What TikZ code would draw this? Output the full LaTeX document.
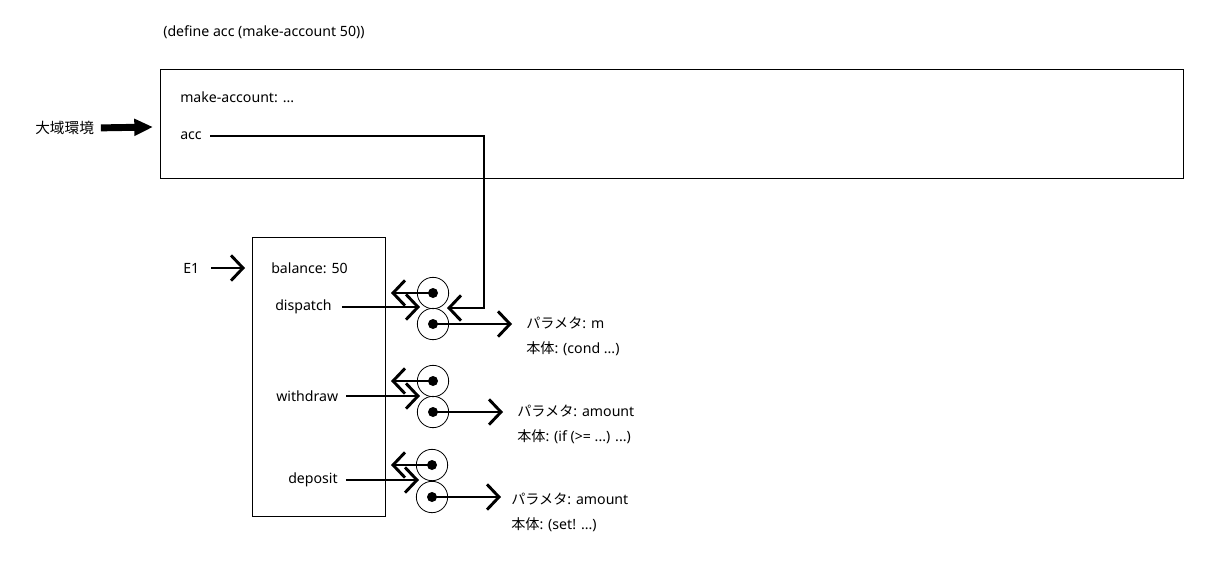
\documentclass[tikz,border=0pt]{standalone}
\usepackage{fontspec}
\setmainfont{Noto Sans}
\newfontfamily\jp{Noto Sans CJK JP}
\usetikzlibrary{arrows.meta}
\tikzset{
  frame/.style={draw, line width=0.75pt},
  lbl/.style={anchor=west, inner sep=0pt, font=\fontsize{10.6}{12}\selectfont},
  cell/.style={circle, draw, line width=0.6pt, minimum size=23.5pt, inner sep=0pt},
  dotn/.style={circle, fill, minimum size=7.5pt, inner sep=0pt},
  ptr/.style={line width=2.2pt, -{Straight Barb[length=9pt,width=19pt,line width=2.2pt]}},
  fat/.style={line width=5.2pt, -{Triangle[length=14pt,width=12pt]}}
}
\begin{document}
\begin{tikzpicture}[x=0.75pt,y=-0.75pt]
\useasboundingbox (0,0) rectangle (1209,568);
% global environment
\node[lbl] (def) at (163,32) {(define acc (make-account 50))};
\node[frame, anchor=north west, minimum width=767.25pt, minimum height=81.75pt, inner sep=0pt] (glob) at (160,69) {};
\node[lbl] (mk) at (180,97) {make-account: ...};
\node[lbl] (acc) at (180,136) {acc};
\node[lbl, font=\jp\fontsize{11}{12}\selectfont] (ge) at (35,128) {大域環境};
\coordinate (geTip) at (153,127);
\draw[fat, shorten <=5pt] (ge.east) -- (geTip);
% E1
\node[frame, anchor=north west, minimum width=99.75pt, minimum height=209.25pt, inner sep=0pt] (e1box) at (252,237) {};
\node[lbl] (e1) at (183,268) {E1};
\coordinate (e1Tip) at (245,268);
\draw[ptr, shorten <=9pt] (e1.east) -- (e1Tip);
\node[lbl] (bal) at (271,268) {balance: 50};
\node[lbl] (disp) at (275,307) {dispatch};
\node[lbl] (wd) at (276,396) {withdraw};
\node[lbl] (dep) at (288,480) {deposit};
% procedure objects
\node[cell] (c1a) at (433,293) {}; \node[dotn] (d1a) at (c1a) {};
\node[cell] (c1b) at (433,324) {}; \node[dotn] (d1b) at (c1b) {};
\node[cell] (c2a) at (433,381) {}; \node[dotn] (d2a) at (c2a) {};
\node[cell] (c2b) at (433,412) {}; \node[dotn] (d2b) at (c2b) {};
\node[cell] (c3a) at (432,465) {}; \node[dotn] (d3a) at (c3a) {};
\node[cell] (c3b) at (432,497) {}; \node[dotn] (d3b) at (c3b) {};
% parameter / body text
\node[lbl] (p1) at (526,323) {{\jp パラメタ}: m};
\node[lbl] (b1) at (526,349) {{\jp 本体}: (cond ...)};
\node[lbl] (p2) at (517,411) {{\jp パラメタ}: amount};
\node[lbl] (b2) at (517,437) {{\jp 本体}: (if (>= ...) ...)};
\node[lbl] (p3) at (511,499) {{\jp パラメタ}: amount};
\node[lbl] (b3) at (511,525) {{\jp 本体}: (set! ...)};
% environment pointers (left)
\coordinate (e1a) at (391,293);
\coordinate (e2a) at (391,381);
\coordinate (e3a) at (391,465);
\draw[ptr] (d1a.center) -- (e1a);
\draw[ptr] (d2a.center) -- (e2a);
\draw[ptr] (d3a.center) -- (e3a);
% code pointers (right)
\coordinate (r1) at (512,324);
\coordinate (r2) at (503,412);
\coordinate (r3) at (501,497);
\draw[ptr] (d1b.center) -- (r1);
\draw[ptr] (d2b.center) -- (r2);
\draw[ptr] (d3b.center) -- (r3);
% bindings to procedure objects
\coordinate (j1) at (420,307);
\coordinate (j2) at (420,396);
\coordinate (j3) at (419,480);
\draw[ptr, shorten <=7.5pt] (disp.east) -- (j1);
\draw[ptr, shorten <=6pt] (wd.east) -- (j2);
\draw[ptr, shorten <=6pt] (dep.east) -- (j3);
% acc binding
\coordinate (accTip) at (447,308);
\draw[ptr, shorten <=6pt] (acc.east) -- (484,136) -- (484,308) -- (accTip);
\end{tikzpicture}
\end{document}
